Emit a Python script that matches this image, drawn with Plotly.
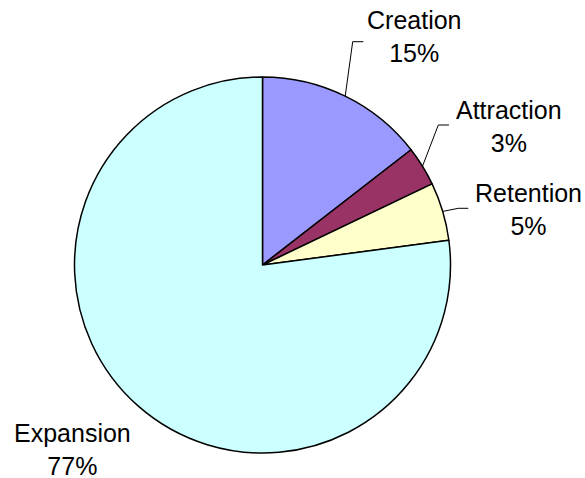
import math
import plotly.graph_objects as go

# Data
categories = ["Creation", "Attraction", "Retention", "Expansion"]
values = [14.5, 3.4, 5.0, 77.1]
pct_labels = ["15%", "3%", "5%", "77%"]
colors = ["#9999FF", "#993366", "#FFFFCC", "#CCFFFF"]

W, H = 585, 478
# pie geometry (pixels)
cx, cy, r = 262.5, 265.0, 188.0

# label block centres (pixels) and leader (elbow, end) points
label_pos = {"Creation": (414, 37), "Attraction": (509, 126),
             "Retention": (528, 209), "Expansion": (72, 449)}
leaders = {"Creation": [(352.7, 41.7), (363.3, 41.7)],
           "Attraction": [(438.3, 125), (449, 125)],
           "Retention": [(458.3, 208.3), (468.3, 208.3)]}

def px(x):
    return x / W

def py(y):
    return 1 - y / H

fig = go.Figure(go.Pie(
    labels=categories, values=values, sort=False, direction="clockwise",
    rotation=0, textinfo="none", hoverinfo="label+percent",
    marker=dict(colors=colors, line=dict(color="black", width=1.5)),
    domain=dict(x=[px(cx - r), px(cx + r)], y=[py(cy + r), py(cy - r)]),
    showlegend=False,
))

total = sum(values)
cum = 0
shapes = []
annotations = []
for name, v, p in zip(categories, values, pct_labels):
    mid = (cum + v / 2) / total * 2 * math.pi
    cum += v
    ex, ey = cx + r * math.sin(mid), cy - r * math.cos(mid)
    if name in leaders:
        pts = [(ex, ey)] + leaders[name]
        path = "M " + " L ".join(f"{px(a):.5f},{py(b):.5f}" for a, b in pts)
        shapes.append(dict(type="path", path=path, xref="paper", yref="paper",
                           line=dict(color="black", width=1)))
    lx, ly = label_pos[name]
    annotations.append(dict(x=px(lx), y=py(ly), xref="paper", yref="paper",
                            text=f"{name}<br>{p}", showarrow=False,
                            xanchor="center", yanchor="middle", align="center",
                            font=dict(family="Liberation Sans, Arial", size=25,
                                      color="black")))

fig.update_layout(width=W, height=H, margin=dict(l=0, r=0, t=0, b=0),
                  paper_bgcolor="white", plot_bgcolor="white",
                  shapes=shapes, annotations=annotations)

fig.write_html("out.html")
